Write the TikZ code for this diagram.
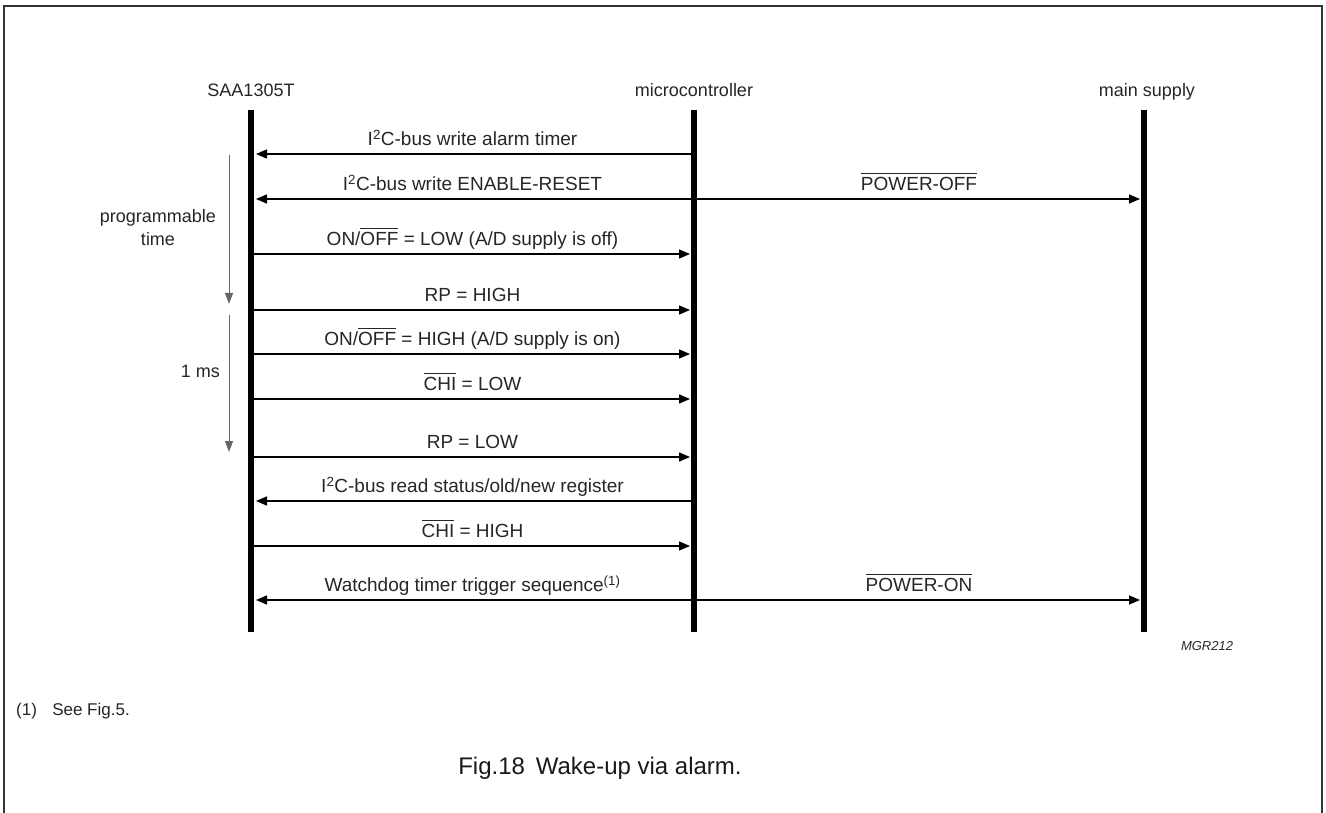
\documentclass[tikz,border=0pt]{standalone}
\usepackage{fontspec}
\setmainfont{Liberation Sans}
\usetikzlibrary{arrows.meta}
\newcommand\ovl[1]{\setbox0\hbox{#1}\rlap{\raisebox{0.86em}{\rule{\wd0}{0.055em}}}\box0\relax}
\tikzset{
  life/.style={line width=6pt},
  msg/.style={line width=1.3pt, -{Triangle[length=11pt,width=9pt]}},
  twoway/.style={line width=1.3pt, {Triangle[length=11pt,width=9pt]}-{Triangle[length=11pt,width=9pt]}},
  lbl/.style={font=\fontsize{19}{23}\selectfont, anchor=base, text=black!85, inner sep=0pt},
  head/.style={font=\fontsize{18}{23}\selectfont, text=black!85, inner sep=0pt},
  timearr/.style={line width=1pt, draw=black!60, -{Triangle[length=11pt,width=8pt]}},
  frame/.style={line width=1.6pt, draw=black!80}
}
\begin{document}
\begin{tikzpicture}[x=1pt,y=-1pt]
\useasboundingbox (0,0) rectangle (1326,813);
% frame
\draw[frame] (4,813) -- (4,6) -- (1322,6) -- (1322,813);
% headers
\node[head, anchor=base] (hS) at (251,97) {SAA1305T};
\node[head, anchor=base] (hM) at (694,97) {microcontroller};
\node[head, anchor=base] (hP) at (1147,97) {main supply};
% lifelines
\coordinate (Stop) at (251,110); \coordinate (Sbot) at (251,632);
\coordinate (Mtop) at (694,110); \coordinate (Mbot) at (694,632);
\coordinate (Ptop) at (1144,110); \coordinate (Pbot) at (1144,632);
\draw[life] (Stop) -- (Sbot);
\draw[life] (Mtop) -- (Mbot);
\draw[life] (Ptop) -- (Pbot);
% message coordinates
\foreach \i/\y in {1/154,2/199,3/254,4/310,5/354,6/399,7/457,8/501,9/546,10/600}{
  \coordinate (S\i) at (251,\y);
  \coordinate (Sin\i) at (256,\y);
  \coordinate (M\i) at (694,\y);
  \coordinate (Min\i) at (690,\y);
  \coordinate (Pin\i) at (1140,\y);
  \coordinate (T\i) at (472.5,\y-8.5);
  \coordinate (U\i) at (919,\y-8.5);
}
% messages
\draw[msg] (M1) -- (Sin1);
\node[lbl] (t1) at (T1) {I\textsuperscript{2}C-bus write alarm timer};
\draw[twoway] (Sin2) -- (Pin2);
\node[lbl] (t2) at (T2) {I\textsuperscript{2}C-bus write ENABLE-RESET};
\node[lbl] (u2) at (U2) {\ovl{POWER-OFF}};
\draw[msg] (S3) -- (Min3);
\node[lbl] (t3) at (T3) {ON/\ovl{OFF} = LOW (A/D supply is off)};
\draw[msg] (S4) -- (Min4);
\node[lbl] (t4) at (T4) {RP = HIGH};
\draw[msg] (S5) -- (Min5);
\node[lbl] (t5) at (T5) {ON/\ovl{OFF} = HIGH (A/D supply is on)};
\draw[msg] (S6) -- (Min6);
\node[lbl] (t6) at (T6) {\ovl{CHI} = LOW};
\draw[msg] (S7) -- (Min7);
\node[lbl] (t7) at (T7) {RP = LOW};
\draw[msg] (M8) -- (Sin8);
\node[lbl] (t8) at (T8) {I\textsuperscript{2}C-bus read status/old/new register};
\draw[msg] (S9) -- (Min9);
\node[lbl] (t9) at (T9) {\ovl{CHI} = HIGH};
\draw[twoway] (Sin10) -- (Pin10);
\node[lbl] (t10) at (T10) {Watchdog timer trigger sequence\textsuperscript{(1)}};
\node[lbl] (u10) at (U10) {\ovl{POWER-ON}};
% time intervals
\coordinate (pa) at (229,155); \coordinate (pb) at (229,304);
\coordinate (ma) at (229,315); \coordinate (mb) at (229,452);
\draw[timearr] (pa) -- (pb);
\draw[timearr] (ma) -- (mb);
\node[head, anchor=base] (pt1) at (158,223) {programmable};
\node[head, anchor=base] (pt2) at (158,246) {time};
\node[head, anchor=base east] (ms) at (220,377) {1 ms};
% code
\node[font=\fontsize{13}{15}\selectfont\itshape, text=black!85, inner sep=0pt, anchor=base] (code) at (1207,650) {MGR212};
% footnote and caption
\node[font=\fontsize{17}{20}\selectfont, text=black!85, inner sep=0pt, anchor=base west] (fn) at (16,715) {(1)\hspace{0.9em}See Fig.5.};
\node[font=\fontsize{24}{28}\selectfont, text=black!90, inner sep=0pt, anchor=base] (cap) at (600,774) {Fig.18\hspace{0.45em}Wake-up via alarm.};
\end{tikzpicture}
\end{document}
